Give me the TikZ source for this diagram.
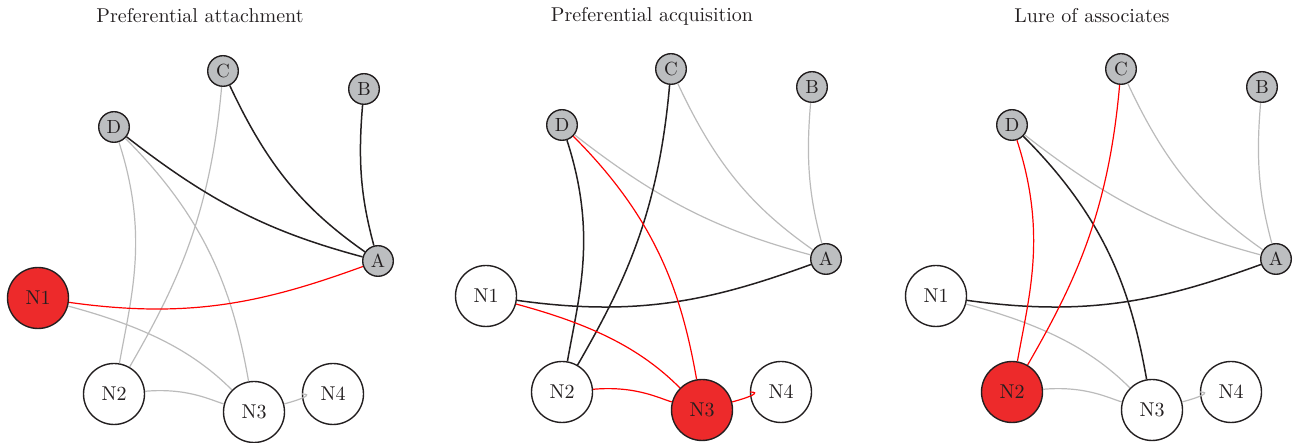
\documentclass[tikz,border=0pt]{standalone}
\usepackage{amsmath}
\usepackage{tikz}

\definecolor{hotred}{RGB}{237,42,43}
\definecolor{oldgray}{RGB}{188,190,192}
\definecolor{linegray}{RGB}{187,187,187}
\definecolor{ink}{RGB}{35,31,32}

\tikzset{
  oldnode/.style={circle, draw=ink, line width=0.7pt, fill=oldgray, minimum size=15.3pt, inner sep=0pt, text=ink, font=\fontsize{9.5}{10}\selectfont},
  newnode/.style={circle, draw=ink, line width=0.7pt, fill=white, minimum size=30.5pt, inner sep=0pt, text=ink, font=\fontsize{10}{11}\selectfont},
  hot/.style={fill=hotred},
  gline/.style={draw=linegray, line width=0.6pt},
  kline/.style={draw=ink, line width=0.75pt},
  rline/.style={draw=red, line width=0.6pt},
  heading/.style={text=ink, font=\fontsize{10}{12}\selectfont},
}

\begin{document}
\begin{tikzpicture}[x=0.5pt, y=0.5pt]
  \useasboundingbox (0,0) rectangle (1294,443);

  % Panel 1
  \begin{scope}[name prefix=pa-]
    \node[heading] (T) at (200,427) {Preferential attachment};
    \node[oldnode] (C) at (223,372) {C};
    \node[oldnode] (B) at (364,354) {B};
    \node[oldnode] (D) at (114,316) {D};
    \node[oldnode] (A) at (378,182) {A};
    \node[newnode, hot] (N1) at (38,145) {N1};
    \node[newnode] (N2) at (114,49) {N2};
    \node[newnode] (N3) at (254,31) {N3};
    \node[newnode] (N4) at (333,49) {N4};

    \draw[gline] (C) to[out=-95, in=60] (N2);
    \draw[gline] (D) to[out=-72, in=80] (N2);
    \draw[gline] (D) to[out=-45, in=100] (N3);
    \draw[gline] (N1) to[out=-15, in=135] (N3);
    \draw[gline] (N2) to[out=5, in=165] (N3);
    \draw[gline] (N3) to[out=15, in=180] (N4);
    \draw[kline] (C) to[out=-65, in=145] (A);
    \draw[kline] (B) to[out=-95, in=105] (A);
    \draw[kline] (D) to[out=-38, in=165] (A);
    \draw[rline] (N1) to[out=-8, in=-160] (A);
  \end{scope}

  % Panel 2
  \begin{scope}[shift={(448,2)}, name prefix=pb-]
    \node[heading] (T) at (204,425) {Preferential acquisition};
    \node[oldnode] (C) at (223,372) {C};
    \node[oldnode] (B) at (364,354) {B};
    \node[oldnode] (D) at (114,316) {D};
    \node[oldnode] (A) at (378,182) {A};
    \node[newnode] (N1) at (38,145) {N1};
    \node[newnode] (N2) at (114,49) {N2};
    \node[newnode, hot] (N3) at (254,31) {N3};
    \node[newnode] (N4) at (333,49) {N4};

    \draw[gline] (C) to[out=-65, in=145] (A);
    \draw[gline] (B) to[out=-95, in=105] (A);
    \draw[gline] (D) to[out=-38, in=165] (A);
    \draw[kline] (N1) to[out=-8, in=-160] (A);
    \draw[kline] (C) to[out=-95, in=60] (N2);
    \draw[kline] (D) to[out=-72, in=80] (N2);
    \draw[rline] (D) to[out=-45, in=100] (N3);
    \draw[rline] (N1) to[out=-15, in=135] (N3);
    \draw[rline] (N2) to[out=5, in=165] (N3);
    \draw[rline] (N3) to[out=15, in=180] (N4);
  \end{scope}

  % Panel 3
  \begin{scope}[shift={(898,2)}, name prefix=pc-]
    \node[heading] (T) at (194,425) {Lure of associates};
    \node[oldnode] (C) at (223,372) {C};
    \node[oldnode] (B) at (364,354) {B};
    \node[oldnode] (D) at (114,316) {D};
    \node[oldnode] (A) at (378,182) {A};
    \node[newnode] (N1) at (38,145) {N1};
    \node[newnode, hot] (N2) at (114,49) {N2};
    \node[newnode] (N3) at (254,31) {N3};
    \node[newnode] (N4) at (333,49) {N4};

    \draw[gline] (C) to[out=-65, in=145] (A);
    \draw[gline] (B) to[out=-95, in=105] (A);
    \draw[gline] (D) to[out=-38, in=165] (A);
    \draw[gline] (N1) to[out=-15, in=135] (N3);
    \draw[gline] (N2) to[out=5, in=165] (N3);
    \draw[gline] (N3) to[out=15, in=180] (N4);
    \draw[kline] (N1) to[out=-8, in=-160] (A);
    \draw[kline] (D) to[out=-45, in=100] (N3);
    \draw[rline] (C) to[out=-95, in=60] (N2);
    \draw[rline] (D) to[out=-72, in=80] (N2);
  \end{scope}
\end{tikzpicture}
\end{document}
